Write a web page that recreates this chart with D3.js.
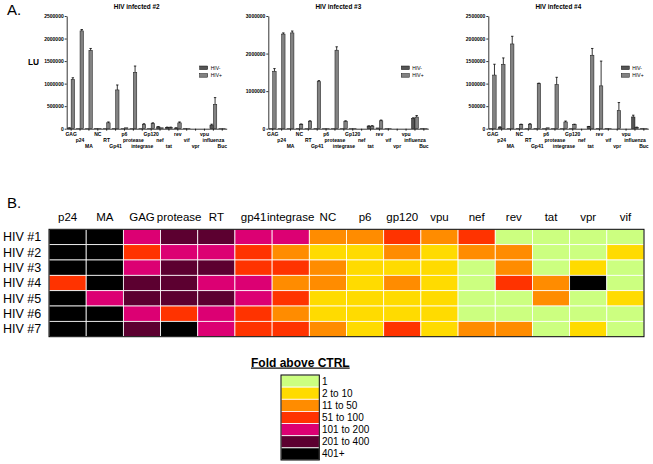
<!DOCTYPE html>
<html><head><meta charset="utf-8">
<script src="https://cdn.jsdelivr.net/npm/d3@7"></script>
<style>body{margin:0;background:#fff} svg{display:block;font-family:"Liberation Sans",Arial,sans-serif}</style>
</head><body><svg id="c" width="653" height="464"></svg>
<script>
// ---------- Panel A data ----------
const barCategories = ["GAG","p24","MA","NC","RT","Gp41","p6","protease","integrase","Gp120","nef","tat","rev","vif","vpr","vpu","influenza","Buc"];
const seriesNames = ["HIV-","HIV+"];
const panelTitles = ["HIV infected #2","HIV infected #3","HIV infected #4"];
const panelYMax = [2500000, 3000000, 2500000];
const panelYStep = [500000, 1000000, 500000];

const p2Neg    = [15000, 5000, 5000, 10000, 5000, 10000, 5000, 5000, 5000, 5000, 40000, 30000, 15000, 10000, 0, 0, 80000, 5000];
const p2Pos    = [1090000, 2170000, 1740000, 10000, 130000, 860000, 20000, 1250000, 90000, 110000, 20000, 30000, 130000, 5000, 0, 0, 540000, 5000];
const p2NegErr = [5000, 0, 0, 0, 0, 0, 0, 0, 0, 0, 5000, 5000, 5000, 0, 0, 0, 20000, 0];
const p2PosErr = [40000, 30000, 40000, 0, 20000, 110000, 0, 140000, 20000, 20000, 0, 5000, 20000, 0, 0, 0, 150000, 0];

const p3Neg    = [10000, 5000, 5000, 10000, 5000, 10000, 5000, 5000, 5000, 5000, 0, 70000, 20000, 5000, 0, 0, 270000, 10000];
const p3Pos    = [1530000, 2520000, 2550000, 120000, 200000, 1250000, 5000, 2090000, 200000, 10000, 0, 70000, 210000, 5000, 0, 0, 310000, 5000];
const p3NegErr = [0, 0, 0, 0, 0, 0, 0, 0, 0, 0, 0, 5000, 0, 0, 0, 0, 20000, 0];
const p3PosErr = [70000, 30000, 50000, 5000, 10000, 30000, 0, 90000, 10000, 0, 0, 10000, 20000, 0, 0, 0, 40000, 0];

const p4Neg    = [10000, 35000, 5000, 10000, 5000, 10000, 5000, 5000, 5000, 5000, 0, 45000, 10000, 10000, 0, 0, 260000, 10000];
const p4Pos    = [1190000, 1430000, 1880000, 90000, 100000, 1000000, 20000, 980000, 150000, 90000, 0, 1630000, 950000, 5000, 400000, 0, 30000, 5000];
const p4NegErr = [0, 5000, 0, 0, 0, 0, 0, 0, 0, 0, 0, 5000, 0, 0, 0, 0, 40000, 0];
const p4PosErr = [240000, 140000, 170000, 10000, 10000, 10000, 0, 160000, 20000, 10000, 0, 150000, 550000, 0, 180000, 0, 5000, 0];

// ---------- Panel B data ----------
const heatGenes = ["p24","MA","GAG","protease","RT","gp41","integrase","NC","p6","gp120","vpu","nef","rev","tat","vpr","vif"];
const heatPatients = ["HIV #1","HIV #2","HIV #3","HIV #4","HIV #5","HIV #6","HIV #7"];
// level index into legendLabels (0 = "1", 6 = "401+")
const heatLevels = [
  [6,6,4,5,5,4,4,2,2,3,2,3,0,0,0,0],
  [6,6,3,4,4,3,2,1,1,2,1,2,2,0,0,1],
  [6,6,4,5,5,3,3,2,1,1,1,0,2,0,1,0],
  [3,6,5,5,4,4,2,2,1,2,1,0,3,2,6,0],
  [6,4,5,5,5,4,3,1,1,1,1,0,0,2,0,1],
  [6,6,4,3,4,3,2,1,1,1,1,0,0,0,0,0],
  [6,6,5,6,4,3,3,2,1,3,1,2,2,0,1,0]
];
const legendLabels = ["1","2 to 10","11 to 50","51 to 100","101 to 200","201 to 400","401+"];
const legendColors = ["#ccff80","#ffdb00","#ff8c00","#ff3300","#dc0073","#5c0030","#000000"];

// ---------- drawing ----------
const svg = d3.select("#c");
const defs = svg.append("defs");
const pat = defs.append("pattern").attr("id","dots").attr("patternUnits","userSpaceOnUse").attr("width",2).attr("height",2);
pat.append("rect").attr("width",2).attr("height",2).attr("fill","#5e5e5e");
pat.append("rect").attr("x",0.5).attr("y",0.5).attr("width",1).attr("height",1).attr("fill","#eee");

svg.append("text").attr("x",7).attr("y",15).attr("font-size",15).text("A.");
svg.append("text").attr("x",28).attr("y",65).attr("font-size",8.3).attr("font-weight","bold").text("LU");

const panels = [
  {neg:p2Neg,pos:p2Pos,negErr:p2NegErr,posErr:p2PosErr,left:66.7},
  {neg:p3Neg,pos:p3Pos,negErr:p3NegErr,posErr:p3PosErr,left:268.3},
  {neg:p4Neg,pos:p4Pos,negErr:p4NegErr,posErr:p4PosErr,left:488.3}
];
const yTop = 16, yBot = 128.7, pw = 160;

panels.forEach((p,i)=>{
  const g = svg.append("g");
  const x = d3.scaleBand().domain(barCategories).range([p.left, p.left+pw]);
  const y = d3.scaleLinear().domain([0,panelYMax[i]]).range([yBot,yTop]);
  const sub = d3.scaleBand().domain(seriesNames).range([0,x.bandwidth()]).paddingOuter(0.3);

  g.append("text").attr("x",p.left+70).attr("y",8.5).attr("text-anchor","middle")
    .attr("font-size",6.4).attr("font-weight","bold").text(panelTitles[i]);

  const ya = g.append("g").attr("transform",`translate(${p.left},0)`)
    .call(d3.axisLeft(y).tickValues(d3.range(0,panelYMax[i]+1,panelYStep[i])).tickFormat(d3.format("d")).tickSize(2).tickSizeOuter(0).tickPadding(1));
  ya.selectAll("text").attr("font-size",5).attr("font-weight","bold").attr("font-family","Liberation Sans, Arial");
  ya.selectAll("path,line").attr("stroke","#000").attr("stroke-width",0.8);

  const xa = g.append("g").attr("transform",`translate(0,${yBot})`)
    .call(d3.axisBottom(x).tickSize(2).tickSizeOuter(0).tickPadding(1));
  xa.selectAll("path,line").attr("stroke","#000").attr("stroke-width",0.8);
  // labels staggered on three rows so that they stay readable without overlapping
  xa.selectAll("text").attr("font-size",5).attr("font-weight","bold").attr("font-family","Liberation Sans, Arial")
    .attr("text-anchor","middle").attr("dy",null)
    .attr("y",(d,k)=>7 + (k%3)*6.4);

  const rows = barCategories.map((c,k)=>({c, vals:[
    {s:"HIV-",v:p.neg[k],e:p.negErr[k]},
    {s:"HIV+",v:p.pos[k],e:p.posErr[k]}]}));
  const cg = g.selectAll("g.cat").data(rows).join("g").attr("class","cat")
    .attr("transform",d=>`translate(${x(d.c)},0)`);
  cg.selectAll("rect").data(d=>d.vals).join("rect")
    .attr("x",d=>sub(d.s)).attr("width",sub.bandwidth())
    .attr("y",d=>y(d.v)).attr("height",d=>yBot-y(d.v))
    .attr("fill",d=>d.s==="HIV-"?"#555":"url(#dots)")
    .attr("stroke","#111").attr("stroke-width",0.5);
  const eb = cg.selectAll("g.err").data(d=>d.vals.filter(v=>v.e>0)).join("g").attr("class","err");
  eb.append("line").attr("x1",d=>sub(d.s)+sub.bandwidth()/2).attr("x2",d=>sub(d.s)+sub.bandwidth()/2)
    .attr("y1",d=>y(d.v)).attr("y2",d=>y(d.v+d.e)).attr("stroke","#000").attr("stroke-width",0.8);
  eb.append("line").attr("x1",d=>sub(d.s)+sub.bandwidth()/2-1.2).attr("x2",d=>sub(d.s)+sub.bandwidth()/2+1.2)
    .attr("y1",d=>y(d.v+d.e)).attr("y2",d=>y(d.v+d.e)).attr("stroke","#000").attr("stroke-width",0.8);

  // legend
  const lg = g.append("g").attr("transform",`translate(${p.left+133},0)`);
  seriesNames.forEach((s,k)=>{
    lg.append("rect").attr("x",0).attr("y",66+k*7.6).attr("width",8).attr("height",3.6)
      .attr("fill",k===0?"#555":"url(#dots)").attr("stroke","#111").attr("stroke-width",0.5);
    lg.append("text").attr("x",11).attr("y",69.6+k*7.6).attr("font-size",5).text(s);
  });
});

// ---------- Panel B heatmap ----------
svg.append("text").attr("x",7).attr("y",208).attr("font-size",15).text("B.");
const hx = d3.scaleBand().domain(heatGenes).range([49,644]);
const hy = d3.scaleBand().domain(heatPatients).range([229.3,336.7]);
const hg = svg.append("g");
heatPatients.forEach((pt,r)=>{
  hg.selectAll(null).data(heatGenes.map((gn,c)=>({gn,lvl:heatLevels[r][c]}))).join("rect")
    .attr("x",d=>hx(d.gn)).attr("y",hy(pt)).attr("width",hx.bandwidth()).attr("height",hy.bandwidth())
    .attr("fill",d=>legendColors[d.lvl]).attr("stroke","#fff").attr("stroke-width",0.8);
  hg.append("text").attr("x",3).attr("y",hy(pt)+hy.bandwidth()/2+4.3).attr("font-size",12.5).text(pt);
});
hg.append("rect").attr("x",49).attr("y",229.3).attr("width",595).attr("height",107.4)
  .attr("fill","none").attr("stroke","#000").attr("stroke-width",1);
hg.selectAll("text.col").data(heatGenes).join("text").attr("class","col")
  .attr("x",d=>hx(d)+hx.bandwidth()/2).attr("y",221)
  .attr("text-anchor","middle").attr("font-size",11.5).text(d=>d);

// legend
svg.append("text").attr("x",251).attr("y",366.5).attr("font-size",12).attr("font-weight","bold")
  .attr("text-decoration","underline").text("Fold above CTRL");
const ly = d3.scaleBand().domain(legendLabels).range([375,460]);
const lgB = svg.append("g");
lgB.selectAll("rect.b").data(legendLabels).join("rect").attr("class","b")
  .attr("x",281).attr("y",d=>ly(d)).attr("width",38.3).attr("height",ly.bandwidth())
  .attr("fill",(d,k)=>legendColors[k]).attr("stroke","#fff").attr("stroke-width",0.8);
lgB.append("rect").attr("x",281).attr("y",375).attr("width",38.3).attr("height",85)
  .attr("fill","none").attr("stroke","#000").attr("stroke-width",1);
lgB.selectAll("text.l").data(legendLabels).join("text").attr("class","l")
  .attr("x",322).attr("y",d=>ly(d)+ly.bandwidth()/2+3.5).attr("font-size",10).text(d=>d);
</script></body></html>
